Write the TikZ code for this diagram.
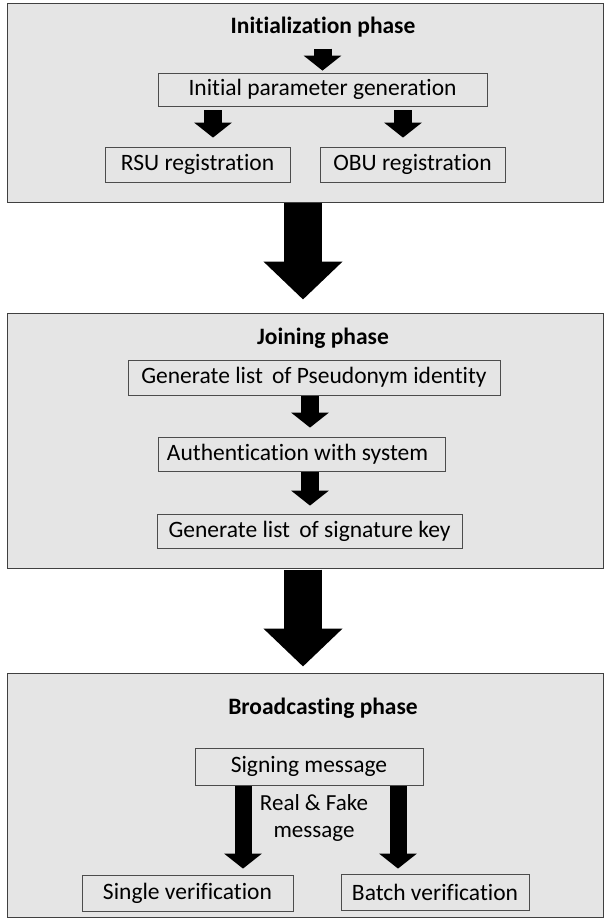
\documentclass[tikz,border=0pt]{standalone}
\usepackage{fontspec}
\setmainfont{Carlito}[Ligatures=NoCommon]
\usetikzlibrary{arrows.meta}

\begin{document}
\begin{tikzpicture}[x=1pt,y=-1pt,
        panel/.style={draw=black!75,fill=black!10,line width=1pt,inner sep=0pt},
        stage/.style={draw=black!70,fill=black!10,line width=0.8pt,inner sep=0pt,
            font=\fontsize{23.5}{27}\selectfont},
        heading/.style={font=\bfseries\fontsize{23.5}{27}\selectfont},
        note/.style={align=center,font=\fontsize{23}{27}\selectfont},
        thin arrow/.style={line width=18pt,-{Triangle[width=37pt,length=15pt]}},
        big arrow/.style={line width=38pt,-{Triangle[width=77pt,length=38pt]}}]
    \useasboundingbox (0,0) rectangle (605,919);
    % phases
    \node[panel,minimum width=596pt,minimum height=199pt] (init) at (305,102.5) {};
    \node[panel,minimum width=596pt,minimum height=255pt] (join) at (305,440.5) {};
    \node[panel,minimum width=596pt,minimum height=244pt] (bcast) at (305,795) {};
    \node[heading] (title1) at (323,27) {Initialization phase};
    \node[heading] (title2) at (323,338) {Joining phase};
    \node[heading] (title3) at (323,708) {Broadcasting phase};
    % initialization
    \node[stage,minimum width=329pt,minimum height=33pt] (param) at (322.5,89.5) {Initial parameter generation};
    \node[stage,minimum width=185pt,minimum height=35pt] (rsu) at (197.5,164.5) {RSU registration};
    \node[stage,minimum width=185pt,minimum height=35pt] (obu) at (412.5,164.5) {OBU registration};
    % joining
    \node[stage,minimum width=372pt,minimum height=35pt] (pseudo) at (314,377.5) {Generate list\, of Pseudonym identity};
    \node[stage,minimum width=287pt,minimum height=34pt] (auth) at (301.5,454) {Authentication with system\,\,};
    \node[stage,minimum width=305pt,minimum height=34pt] (sigkey) at (309.5,531) {Generate list\, of signature key};
    % broadcasting
    \node[stage,minimum width=228pt,minimum height=37pt] (sign) at (309,766.5) {Signing message};
    \node[stage,minimum width=211pt,minimum height=36pt] (single) at (187.5,893) {Single verification};
    \node[stage,minimum width=188pt,minimum height=36pt] (batch) at (435,892) {Batch verification};
    \node[note] (msg) at (314,818) {Real \& Fake\\message};

    \draw[thin arrow,shorten <=8pt,shorten >=2pt] (title1.south -| param.north) -- (param.north);
    \draw[thin arrow,shorten <=4pt,shorten >=9pt] (param.south -| 213,0) -- (rsu.north -| 213,0);
    \draw[thin arrow,shorten <=4pt,shorten >=9pt] (param.south -| 403,0) -- (obu.north -| 403,0);
    \draw[thin arrow,shorten <=1pt,shorten >=9pt] (pseudo.south -| 310,0) -- (auth.north -| 310,0);
    \draw[thin arrow,shorten <=1pt,shorten >=8pt] (auth.south -| 310,0) -- (sigkey.north -| 310,0);
    \draw[thin arrow,line width=17pt,shorten <=1pt,shorten >=6pt] (sign.south -| single.north) ++(55.5,0) coordinate (s1) -- (s1 |- single.north);
    \draw[thin arrow,line width=17pt,shorten <=1pt,shorten >=5pt] (sign.south -| 398,0) -- (batch.north -| 398,0);
    \draw[big arrow] (init.south -| 303,0) -- ([yshift=13pt]join.north -| 303,0);
    \draw[big arrow,shorten <=1pt] (join.south -| 303,0) -- ([yshift=6pt]bcast.north -| 303,0);
\end{tikzpicture}
\end{document}
